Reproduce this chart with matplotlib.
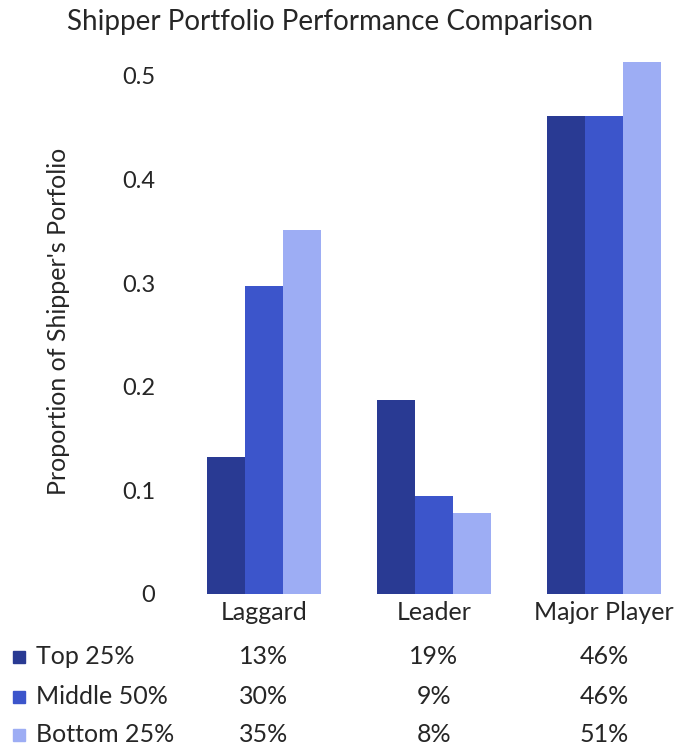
import numpy as np
import matplotlib.pyplot as plt
import matplotlib.transforms as mtransforms

plt.rcParams['font.family'] = ['Lato', 'DejaVu Sans']

# data
categories = ['Laggard', 'Leader', 'Major Player']
series = ['Top 25%', 'Middle 50%', 'Bottom 25%']
top25 = [0.132, 0.187, 0.461]
middle50 = [0.297, 0.095, 0.461]
bottom25 = [0.351, 0.078, 0.513]
table_text = [['13%', '19%', '46%'],
              ['30%', '9%', '46%'],
              ['35%', '8%', '51%']]
colors = ['#293a93', '#3c55cb', '#9dadf4']
txt = '#262626'

W, H = 678, 748
fig = plt.figure(figsize=(W / 100, H / 100), dpi=100)
fig.patch.set_facecolor('white')

# axes placed in pixel terms
left, right, top, bottom = 165, 675, 55, 594
ax = fig.add_axes([left / W, 1 - bottom / H, (right - left) / W, (bottom - top) / H])

x = np.arange(len(categories))
bw = 0.224
for i, vals in enumerate([top25, middle50, bottom25]):
    ax.bar(x + (i - 1) * bw, vals, width=bw, color=colors[i], edgecolor='none')

ax.set_xlim((left - 264) / 170, (right - 264) / 170)
ax.set_ylim(0, 0.52)
ax.set_yticks([0, 0.1, 0.2, 0.3, 0.4, 0.5])
ax.set_yticklabels(['0', '0.1', '0.2', '0.3', '0.4', '0.5'])
ax.set_xticks(x)
ax.set_xticklabels(categories)
ax.tick_params(axis='both', length=0, colors=txt)
ax.tick_params(axis='y', pad=7, labelsize=17)
ax.tick_params(axis='x', pad=5, labelsize=18)
for sp in ax.spines.values():
    sp.set_visible(False)

ax.set_ylabel("Proportion of Shipper's Porfolio", fontsize=18, color=txt)
ax.yaxis.set_label_coords((70 - left) / (right - left), (bottom - 321) / (bottom - top))

fig.text(330 / W, 1 - 22 / H, 'Shipper Portfolio Performance Comparison',
         ha='center', va='center', fontsize=20, color=txt)

# data table under the axis
trans = mtransforms.blended_transform_factory(ax.transData, fig.transFigure)
row_y = [657, 697, 735]
for r, name in enumerate(series):
    yf = 1 - row_y[r] / H
    fig.patches.append(plt.Rectangle((13 / W, yf - 6 / H), 12 / W, 12 / H,
                                     transform=fig.transFigure, color=colors[r]))
    fig.text(36 / W, yf, name, ha='left', va='center', fontsize=18, color=txt)
    for c in range(len(categories)):
        ax.text(x[c], yf, table_text[r][c], transform=trans, ha='center',
                va='center', fontsize=18, color=txt)

fig.savefig('out.png', dpi=100)
